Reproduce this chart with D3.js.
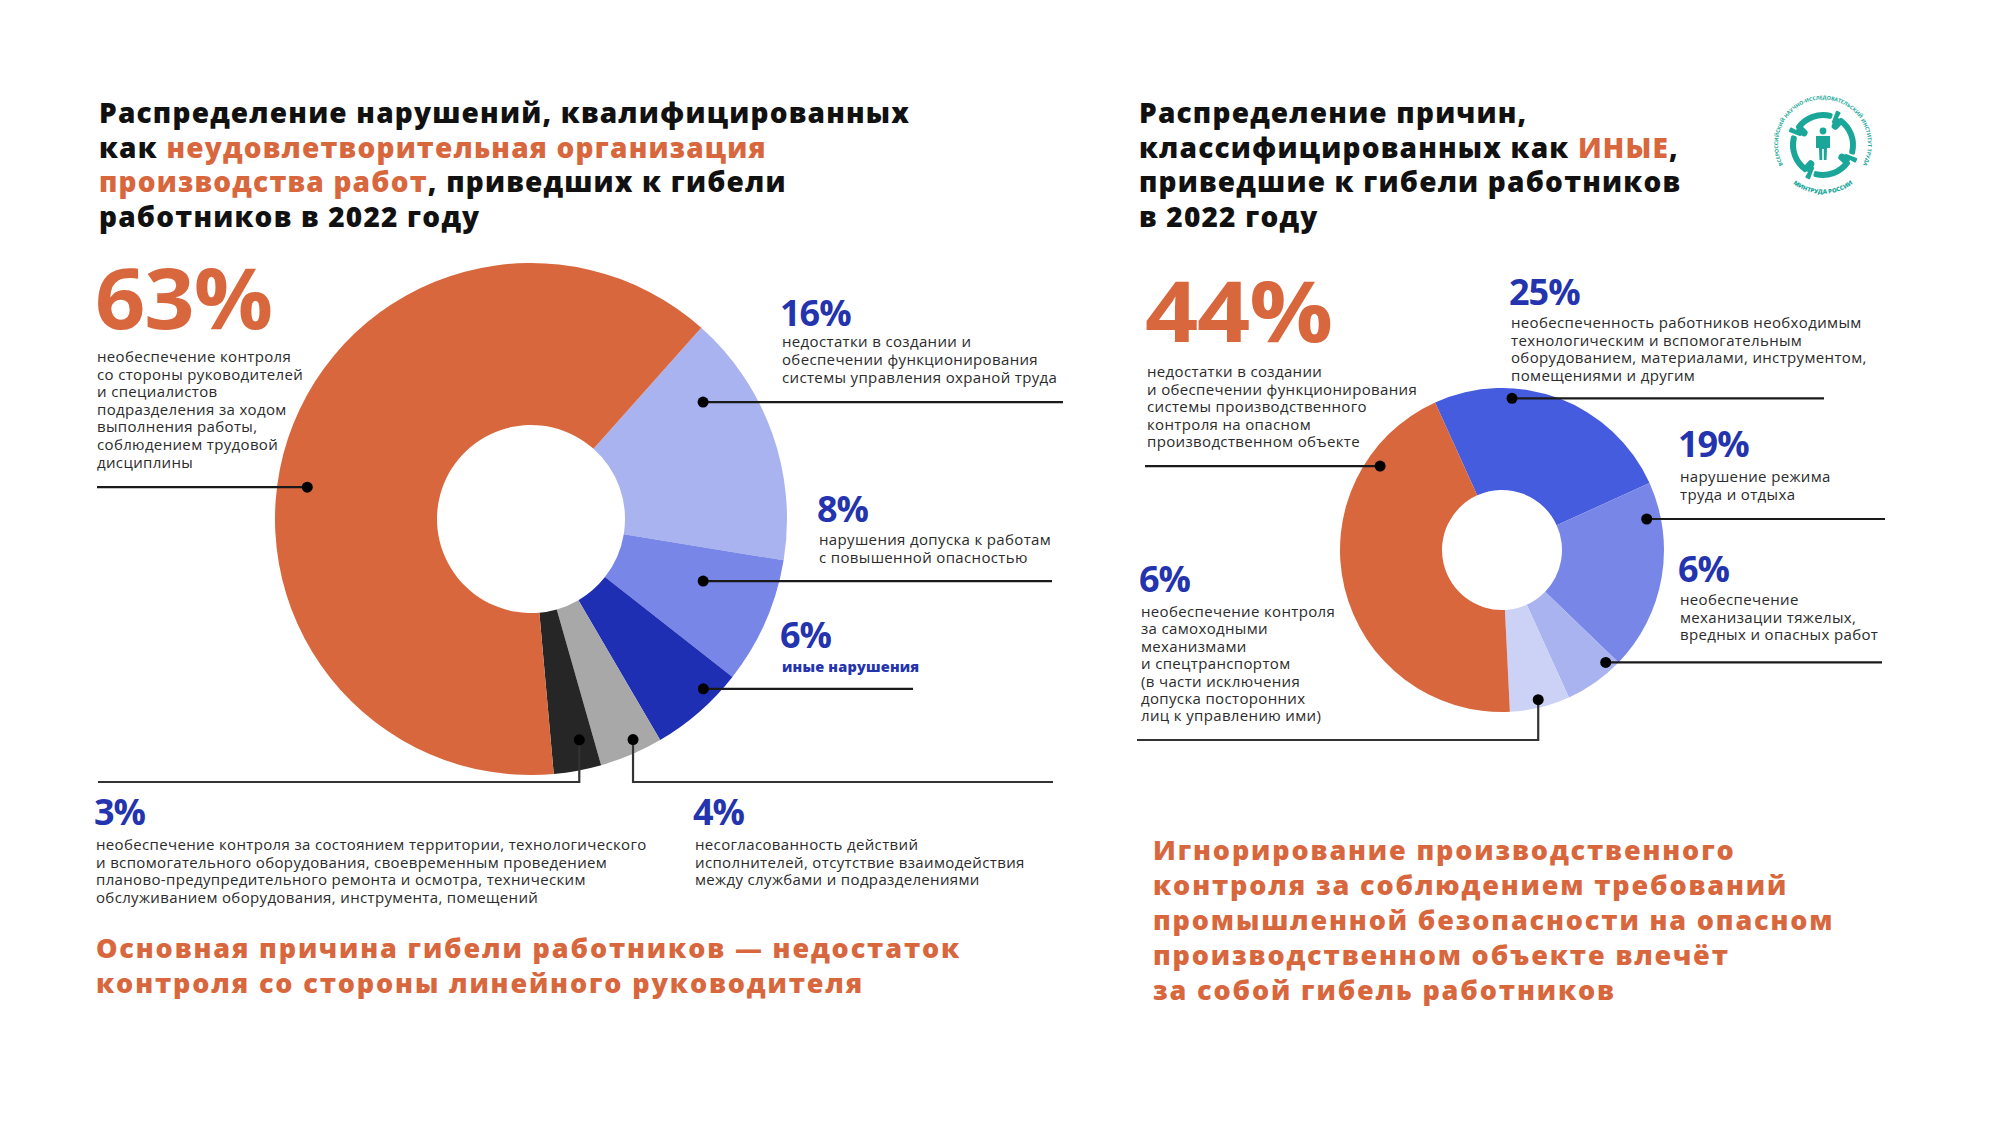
<!DOCTYPE html>
<html>
<head>
<meta charset="utf-8">
<script src="https://cdn.jsdelivr.net/npm/d3@7/dist/d3.min.js"></script>
<style>
  html, body { margin: 0; padding: 0; background: #fff; }
  svg { display: block; }
  text { font-family: 'Open Sans', 'Noto Sans', sans-serif; }
</style>
</head>
<body>
<div id="chart"></div>
<script>
// ---- data ----
const leftCategories = [
    "Недостатки СУОТ",
    "Нарушения допуска к работам",
    "Иные нарушения",
    "Несогласованность действий",
    "Контроль территории и оборудования",
    "Контроль со стороны руководителей"
];
const leftValues = [16, 8, 6, 4, 3, 63];

const rightCategories = [
    "Необеспеченность оборудованием",
    "Режим труда и отдыха",
    "Механизация тяжелых работ",
    "Контроль самоходных механизмов",
    "Производственный контроль на ОПО"
];
const rightValues = [25, 19, 6, 6, 44];

const leftDescriptions = [
    ["недостатки в создании и", "обеспечении функционирования", "системы управления охраной труда"],
    ["нарушения допуска к работам", "с повышенной опасностью"],
    ["иные нарушения"],
    ["несогласованность действий", "исполнителей, отсутствие взаимодействия", "между службами и подразделениями"],
    ["необеспечение контроля за состоянием территории, технологического",
     "и вспомогательного оборудования, своевременным проведением",
     "планово-предупредительного ремонта и осмотра, техническим",
     "обслуживанием оборудования, инструмента, помещений"],
    ["необеспечение контроля", "со стороны руководителей", "и специалистов",
     "подразделения за ходом", "выполнения работы,", "соблюдением трудовой", "дисциплины"]
];

const rightDescriptions = [
    ["необеспеченность работников необходимым", "технологическим и вспомогательным",
     "оборудованием, материалами, инструментом,", "помещениями и другим"],
    ["нарушение режима", "труда и отдыха"],
    ["необеспечение", "механизации тяжелых,", "вредных и опасных работ"],
    ["необеспечение контроля", "за самоходными", "механизмами", "и спецтранспортом",
     "(в части исключения", "допуска посторонних", "лиц к управлению ими)"],
    ["недостатки в создании", "и обеспечении функционирования", "системы производственного",
     "контроля на опасном", "производственном объекте"]
];

// titles: [text, highlighted?]
const leftTitle = [
    [["Распределение нарушений, квалифицированных", false]],
    [["как ", false], ["неудовлетворительная организация", true]],
    [["производства работ", true], [", приведших к гибели", false]],
    [["работников в 2022 году", false]]
];
const rightTitle = [
    [["Распределение причин,", false]],
    [["классифицированных как ", false], ["ИНЫЕ", true], [",", false]],
    [["приведшие к гибели работников", false]],
    [["в 2022 году", false]]
];
const leftConclusion = ["Основная причина гибели работников — недостаток", "контроля со стороны линейного руководителя"];
const rightConclusion = ["Игнорирование производственного", "контроля за соблюдением требований",
    "промышленной безопасности на опасном", "производственном объекте влечёт", "за собой гибель работников"];

// ---- styles ----
const ORANGE = "#d8673d";
const BLUE_TXT = "#2433ae";
const INK = "#111111";
const DESC = "#2b2b2b";
const TEAL = "#1aa79a";
const leftColors = ["#a9b3ef", "#7886e8", "#1f2fb3", "#a8a8a8", "#262626", "#d8673d"];
const rightColors = ["#465cde", "#7886e8", "#a9b3ef", "#ccd2f6", "#d8673d"];

const width = 2000, height = 1125;
const rad = d => d * Math.PI / 180;

const svg = d3.select("#chart").append("svg")
    .attr("width", width)
    .attr("height", height)
    .attr("viewBox", "0 0 " + width + " " + height);

// ---- helpers ----
function title(lines, x, y0, step) {
    lines.forEach((parts, i) => {
        const t = svg.append("text")
            .attr("x", x)
            .attr("y", y0 + i * step)
            .style("font-size", "28px")
            .style("font-weight", 800)
            .style("letter-spacing", "1.2px");
        parts.forEach(p => {
            t.append("tspan").text(p[0]).attr("fill", p[1] ? ORANGE : INK);
        });
    });
}

function textBlock(lines, x, y0, step, opts) {
    lines.forEach((l, i) => {
        svg.append("text")
            .attr("x", x)
            .attr("y", y0 + i * step)
            .attr("fill", opts.color)
            .style("font-size", opts.size + "px")
            .style("font-weight", opts.weight)
            .style("letter-spacing", (opts.ls || 0) + "px")
            .text(l);
    });
}

function pct(v, x, y, size, color, len) {
    const t = svg.append("text")
        .attr("x", x)
        .attr("y", y)
        .attr("fill", color)
        .style("font-size", size + "px")
        .style("font-weight", 700)
        .style("letter-spacing", "-1px")
        .text(v + "%");
    if (len) t.attr("textLength", len).attr("lengthAdjust", "spacingAndGlyphs");
}

function donut(values, colors, cx, cy, R, r, start) {
    const pie = d3.pie().sort(null).value(d => d)
        .startAngle(rad(start)).endAngle(rad(start) + 2 * Math.PI);
    const arc = d3.arc().innerRadius(r).outerRadius(R);
    const arcs = pie(values);
    svg.append("g")
        .attr("transform", "translate(" + cx + "," + cy + ")")
        .selectAll("path")
        .data(arcs)
        .enter()
        .append("path")
        .attr("d", arc)
        .attr("fill", (d, i) => colors[i]);
    return arcs;
}

// leader: dot on the slice (distance from centre, fraction of slice angle), then line
function leader(arcs, cx, cy, spec) {
    const s = arcs[spec.i];
    const a = s.startAngle + spec.frac * (s.endAngle - s.startAngle);
    const x = cx + spec.dist * Math.sin(a);
    const y = cy - spec.dist * Math.cos(a);
    const p = d3.path();
    p.moveTo(x, y);
    if (spec.down !== undefined) {
        p.lineTo(x, spec.down);
        p.lineTo(spec.end, spec.down);
    } else {
        p.lineTo(spec.end, y);
    }
    svg.append("path")
        .attr("d", p.toString())
        .attr("fill", "none")
        .attr("stroke", spec.down !== undefined ? "#333" : "#1a1a1a")
        .attr("stroke-width", 2.2);
    svg.append("circle")
        .attr("cx", x).attr("cy", y).attr("r", 5.5)
        .attr("fill", "#000");
}

const descStyle = { size: 15, weight: 400, color: DESC, ls: 0.35 };
const conclStyle = { size: 27, weight: 800, color: ORANGE, ls: 1.85 };

// ---- left chart ----
title(leftTitle, 99, 123, 34.6);

const L = { cx: 531, cy: 519, R: 256, r: 94, start: 41.7 };
const leftArcs = donut(leftValues, leftColors, L.cx, L.cy, L.R, L.r, L.start);

const leftLeaders = [
    { i: 0, dist: 208, frac: 0.245, end: 1063 },
    { i: 1, dist: 183, frac: 0.365, end: 1052 },
    { i: 2, dist: 242, frac: 0.30, end: 913 },
    { i: 3, dist: 243, frac: 0.38, down: 782, end: 1053 },
    { i: 4, dist: 226, frac: 0.33, down: 782, end: 98 },
    { i: 5, dist: 226, frac: 0.455, end: 97 }
];
leftLeaders.forEach(s => leader(leftArcs, L.cx, L.cy, s));

const leftLabelPos = [
    { x: 782, py: 326, dy: 347, step: 17.8 },
    { x: 819, py: 522, dy: 545, step: 17.8 },
    { x: 782, py: 648, dy: 672, step: 17.8, bold: true },
    { x: 695, py: 825, dy: 850, step: 17.5 },
    { x: 96, py: 825, dy: 850, step: 17.5 },
    { x: 97, py: 329, dy: 362, step: 17.6, big: 177 }
];
leftLabelPos.forEach((p, i) => {
    pct(leftValues[i], p.x - 2, p.py, p.big ? 84 : 36, p.big ? ORANGE : BLUE_TXT, p.big);
    textBlock(leftDescriptions[i], p.x, p.dy, p.step,
        p.bold ? { size: 14.5, weight: 800, color: BLUE_TXT, ls: 0.2 } : descStyle);
});

textBlock(leftConclusion, 96, 958, 34.5, conclStyle);

// ---- right chart ----
title(rightTitle, 1139, 123, 34.6);

const Rt = { cx: 1502, cy: 550, R: 162, r: 60, start: -24.4 };
const rightArcs = donut(rightValues, rightColors, Rt.cx, Rt.cy, Rt.R, Rt.r, Rt.start);

const rightLeaders = [
    { i: 0, dist: 152, frac: 0.313, end: 1824 },
    { i: 1, dist: 148, frac: 0.18, end: 1885 },
    { i: 2, dist: 153, frac: 0.153, end: 1882 },
    { i: 3, dist: 154, frac: 0.5, down: 740, end: 1137 },
    { i: 4, dist: 148, frac: 0.804, end: 1145 }
];
rightLeaders.forEach(s => leader(rightArcs, Rt.cx, Rt.cy, s));

const rightLabelPos = [
    { x: 1511, py: 305, dy: 328, step: 17.6 },
    { x: 1680, py: 457, dy: 482, step: 17.5 },
    { x: 1680, py: 582, dy: 605, step: 17.5 },
    { x: 1141, py: 592, dy: 617, step: 17.4 },
    { x: 1147, py: 342, dy: 377, step: 17.5, big: 187 }
];
rightLabelPos.forEach((p, i) => {
    pct(rightValues[i], p.x - 2, p.py, p.big ? 84 : 36, p.big ? ORANGE : BLUE_TXT, p.big);
    textBlock(rightDescriptions[i], p.x, p.dy, p.step, descStyle);
});

textBlock(rightConclusion, 1153, 860, 35, conclStyle);

// ---- logo ----
const logo = svg.append("g").attr("transform", "translate(1823,145)");
logo.append("path")
    .attr("id", "ringTop")
    .attr("fill", "none")
    .attr("d", "M -40,20 A 45,45 0 1,1 40,20");
logo.append("text")
    .attr("fill", TEAL)
    .style("font-size", "5.2px")
    .style("font-weight", 700)
    .append("textPath")
    .attr("href", "#ringTop")
    .attr("startOffset", "50%")
    .attr("text-anchor", "middle")
    .text("ВСЕРОССИЙСКИЙ НАУЧНО-ИССЛЕДОВАТЕЛЬСКИЙ ИНСТИТУТ ТРУДА");
logo.append("path")
    .attr("id", "ringBottom")
    .attr("fill", "none")
    .attr("d", "M -28,40 A 49,49 0 0,0 28,40");
logo.append("text")
    .attr("fill", TEAL)
    .style("font-size", "6px")
    .style("font-weight", 800)
    .append("textPath")
    .attr("href", "#ringBottom")
    .attr("startOffset", "50%")
    .attr("text-anchor", "middle")
    .text("МИНТРУДА РОССИИ");

// four hands: band, palm at one end, cuff at the other, turned by quarters
const band = d3.arc().innerRadius(27).outerRadius(33).cornerRadius(2);
const palm = d3.arc().innerRadius(19).outerRadius(31).cornerRadius(3);
const cuff = d3.arc().innerRadius(24).outerRadius(37).cornerRadius(1);
[0, 90, 180, 270].forEach(a => {
    const h = logo.append("g").attr("transform", "rotate(" + a + ")");
    h.append("path").attr("fill", TEAL)
        .attr("d", band({ startAngle: rad(-58), endAngle: rad(18) }));
    h.append("path").attr("fill", TEAL)
        .attr("d", palm({ startAngle: rad(-66), endAngle: rad(-48) }));
    h.append("path").attr("fill", TEAL)
        .attr("d", cuff({ startAngle: rad(21), endAngle: rad(29) }));
});
logo.append("circle").attr("cx", 0).attr("cy", -14).attr("r", 3.4).attr("fill", TEAL);
logo.append("path")
    .attr("d", "M -7,-9 L 7,-9 L 7,3 L 4,3 L 3.5,15 L 0.8,15 L 0.8,4 L -0.8,4 L -0.8,15 L -3.5,15 L -4,3 L -7,3 Z")
    .attr("fill", TEAL);
</script>
</body>
</html>
